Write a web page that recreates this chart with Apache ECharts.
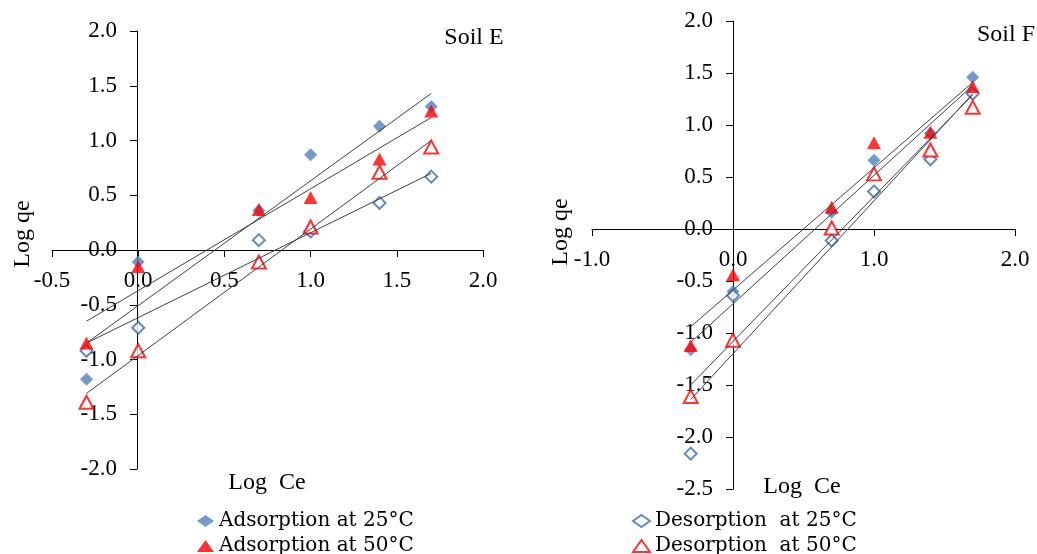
<!DOCTYPE html>
<html>
<head>
<meta charset="utf-8">
<script src="https://cdn.jsdelivr.net/npm/echarts@6/dist/echarts.min.js"></script>
<style>
  html, body { margin: 0; padding: 0; background: #fff; }
  #main { width: 1037px; height: 554px; }
</style>
</head>
<body>
<div id="main"></div>
<script>
// Log Ce values (same for both soils)
var logCe = [-0.3, 0, 0.7, 1.0, 1.4, 1.7];

// Soil E, Log qe
var adsE25 = [-1.18, -0.11, 0.36, 0.87, 1.13, 1.31];
var adsE50 = [-0.85, -0.15, 0.37, 0.48, 0.83, 1.27];
var desE25 = [-0.92, -0.71, 0.09, 0.17, 0.43, 0.67];
var desE50 = [-1.39, -0.92, -0.11, 0.21, 0.71, 0.94];

// Soil F, Log qe
var adsF25 = [-1.16, -0.60, 0.16, 0.66, 0.92, 1.46];
var adsF50 = [-1.12, -0.44, 0.21, 0.83, 0.93, 1.37];
var desF25 = [-2.16, -0.64, -0.11, 0.36, 0.67, 1.30];
var desF50 = [-1.61, -1.07, 0.01, 0.53, 0.76, 1.17];

// trend line ends
var fitX = [-0.3, 1.7];
var fitE_ads25 = [-0.85, 1.43];
var fitE_ads50 = [-0.65, 1.21];
var fitE_des25 = [-0.85, 0.70];
var fitE_des50 = [-1.31, 1.00];
var fitF_ads25 = [-1.09, 1.38];
var fitF_ads50 = [-0.94, 1.41];
var fitF_des25 = [-1.64, 1.30];
var fitF_des50 = [-1.50, 1.29];

var names = ["Adsorption at 25°C", "Adsorption at 50°C", "Desorption  at 25°C", "Desorption  at 50°C"];

var serif = "'Liberation Serif', 'Times New Roman', serif";
var blue = "#4f81bd";
var red = "#ff0000";

function pairs(xs, ys) {
  var out = [];
  for (var i = 0; i < xs.length; i++) out.push([xs[i], ys[i]]);
  return out;
}

// axes cross at zero: the line is moved there with offset
function axis(min, max, interval, grid, isY, offset) {
  return {
    type: "value",
    gridIndex: grid,
    position: isY ? "left" : "bottom",
    offset: offset,
    min: min,
    max: max,
    interval: interval,
    axisLine: { onZero: false, lineStyle: { color: "#000", width: 1 } },
    axisTick: { show: true, inside: false, length: 7, lineStyle: { color: "#000" } },
    splitLine: { show: false },
    axisLabel: {
      color: "#000",
      fontFamily: serif,
      fontSize: 23,
      margin: isY ? 20 : 19,
      showMinLabel: true,
      showMaxLabel: true,
      formatter: function (v) { return v.toFixed(1); }
    }
  };
}

function marks(name, grid, ys, style) {
  return {
    name: name,
    type: "scatter",
    xAxisIndex: grid,
    yAxisIndex: grid,
    data: pairs(logCe, ys),
    symbol: style.symbol,
    symbolSize: style.size,
    itemStyle: style.item,
    z: 3
  };
}

function fit(grid, ys) {
  return {
    type: "line",
    xAxisIndex: grid,
    yAxisIndex: grid,
    data: pairs(fitX, ys),
    symbol: "none",
    silent: true,
    lineStyle: { color: "#404040", width: 1 },
    z: 4
  };
}

var sAds25 = { symbol: "diamond", size: 13, item: { color: blue } };
var sAds50 = { symbol: "triangle", size: [14, 13], item: { color: red } };
var sDes25 = { symbol: "diamond", size: 12, item: { color: "#fff", borderColor: "#3b6eab", borderWidth: 2 } };
var sDes50 = { symbol: "triangle", size: [14, 13], item: { color: "#fff", borderColor: red, borderWidth: 2 } };

var series = [
  marks(names[0], 0, adsE25, sAds25),
  marks(names[2], 0, desE25, sDes25),
  marks(names[1], 0, adsE50, sAds50),
  marks(names[3], 0, desE50, sDes50),
  fit(0, fitE_ads25), fit(0, fitE_ads50), fit(0, fitE_des25), fit(0, fitE_des50),
  marks(names[0], 1, adsF25, sAds25),
  marks(names[2], 1, desF25, sDes25),
  marks(names[1], 1, adsF50, sAds50),
  marks(names[3], 1, desF50, sDes50),
  fit(1, fitF_ads25), fit(1, fitF_ads50), fit(1, fitF_des25), fit(1, fitF_des50)
];

function txt(x, y, s, rot) {
  return {
    type: "text",
    x: x, y: y,
    rotation: rot || 0,
    style: {
      text: s, fill: "#000", font: "24px " + serif,
      textAlign: "center", textVerticalAlign: "middle"
    }
  };
}

var legendText = { color: "#000", fontFamily: "'DejaVu Serif', serif", fontSize: 20, lineHeight: 19 };

var option = {
  backgroundColor: "#fff",
  animation: false,
  grid: [
    { left: 52, top: 31, width: 431, height: 438 },
    { left: 592, top: 21, width: 423, height: 468 }
  ],
  xAxis: [axis(-0.5, 2.0, 0.5, 0, false, -219), axis(-1.0, 2.0, 1.0, 1, false, -260)],
  yAxis: [axis(-2.0, 2.0, 0.5, 0, true, -85), axis(-2.5, 2.0, 0.5, 1, true, -141)],
  legend: [
    {
      data: [names[0], names[1]], orient: "vertical", left: 192, top: 506, height: 80,
      itemWidth: 17, itemHeight: 12, itemGap: 5, textStyle: legendText
    },
    {
      data: [names[2], names[3]], orient: "vertical", left: 627, top: 506, height: 80,
      itemWidth: 17, itemHeight: 12, itemGap: 5, textStyle: legendText
    }
  ],
  graphic: [
    txt(23, 234, "Log qe", Math.PI / 2),
    txt(267, 483, "Log  Ce"),
    txt(474, 38, "Soil E"),
    txt(561, 232, "Log qe", Math.PI / 2),
    txt(802, 487, "Log  Ce"),
    txt(1006, 35, "Soil F")
  ],
  series: series
};

var chart = echarts.init(document.getElementById("main"));
chart.setOption(option);
</script>
</body>
</html>
